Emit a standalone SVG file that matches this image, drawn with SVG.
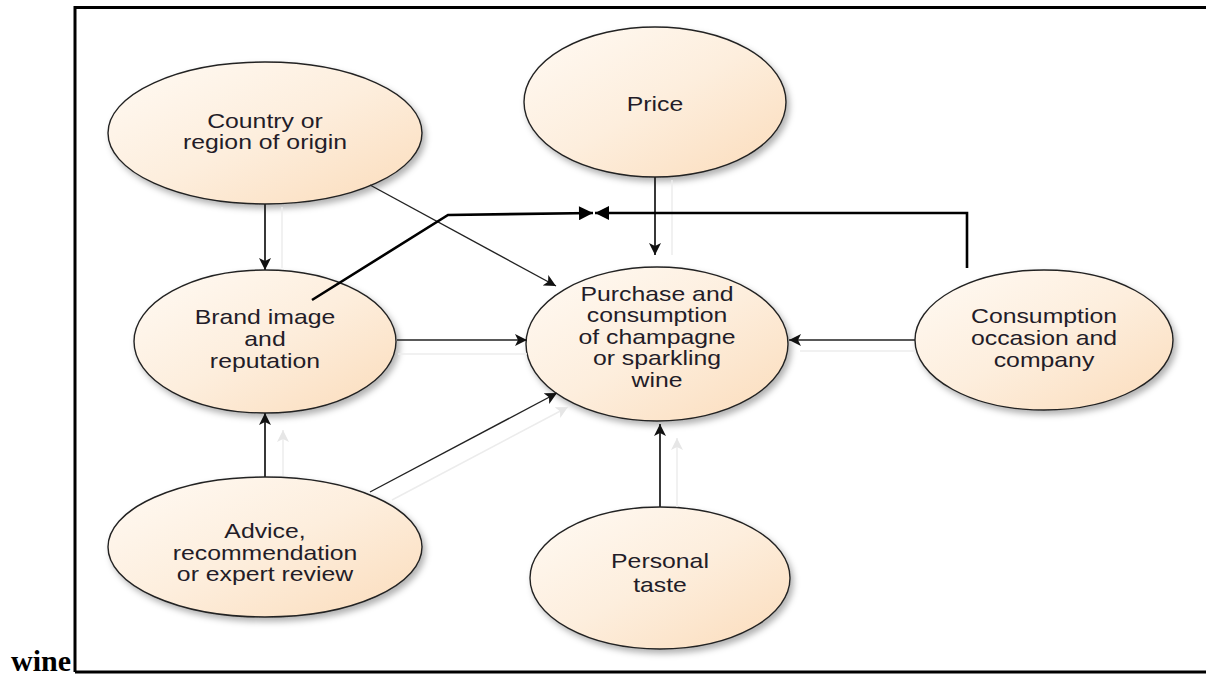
<svg xmlns="http://www.w3.org/2000/svg" width="1206" height="675" viewBox="0 0 1206 675">
  <defs>
    <linearGradient id="peach" x1="0" y1="0" x2="1" y2="1">
      <stop offset="0" stop-color="#fffaf4"/>
      <stop offset="0.5" stop-color="#fdeedd"/>
      <stop offset="1" stop-color="#fbdcbb"/>
    </linearGradient>
    <filter id="shadow" x="-10%" y="-10%" width="125%" height="130%">
      <feDropShadow dx="3" dy="4" stdDeviation="3" flood-color="#000" flood-opacity="0.3"/>
    </filter>
    <marker id="arr" viewBox="0 0 12 12" refX="12" refY="6" markerWidth="12" markerHeight="12" markerUnits="userSpaceOnUse" orient="auto">
      <path d="M0,0 L12,6 L0,12 L3,6 Z" fill="#111"/>
    </marker>
    <marker id="arrGhost" viewBox="0 0 12 12" refX="12" refY="6" markerWidth="12" markerHeight="12" markerUnits="userSpaceOnUse" orient="auto">
      <path d="M0,0 L12,6 L0,12 L3,6 Z" fill="#e6e6e6"/>
    </marker>
    <marker id="arrBold" viewBox="0 0 14 14" refX="14" refY="7" markerWidth="15" markerHeight="14" markerUnits="userSpaceOnUse" orient="auto">
      <path d="M0,0 L14,7 L0,14 Z" fill="#000"/>
    </marker>
  </defs>
  <style>
    .node ellipse { fill: url(#peach); stroke: #222; stroke-width: 1.4; filter: url(#shadow); }
    .label { font-family: "Liberation Sans", Arial, sans-serif; font-size: 20px; fill: #231c28; text-anchor: middle; }
    .edge { fill: none; stroke: #222; stroke-width: 1.4; marker-end: url(#arr); }
    .edge.vert { stroke-width: 1.8; }
    .ghost { fill: none; stroke: #ececec; stroke-width: 1.5; }
    .ghost.tip { marker-end: url(#arrGhost); }
    .bold { fill: none; stroke: #000; stroke-width: 2.6; marker-end: url(#arrBold); }
    .frame { fill: none; stroke: #000; }
    .caption { font-family: "Liberation Serif", "Times New Roman", serif; font-weight: bold; font-size: 30px; fill: #000; }
  </style>

  <rect width="1206" height="675" fill="#fff"/>

  <!-- surrounding box and caption -->
  <g id="frame">
    <path class="frame" d="M75,672 L75,7.5 L1206,7.5" stroke-width="3"/>
    <path class="frame" d="M75,672 L1206,672" stroke-width="3"/>
    <text class="caption" x="11" y="671">wine</text>
  </g>

  <!-- nodes -->
  <g id="node-origin" class="node">
    <ellipse cx="265" cy="133" rx="157" ry="71"/>
    <g transform="translate(265,0) scale(1.24,1)">
      <text class="label" x="0" y="128">Country or</text>
      <text class="label" x="0" y="149">region of origin</text>
    </g>
  </g>

  <g id="node-price" class="node">
    <ellipse cx="655" cy="102" rx="131" ry="75"/>
    <g transform="translate(655,0) scale(1.24,1)">
      <text class="label" x="0" y="111">Price</text>
    </g>
  </g>

  <g id="node-brand" class="node">
    <ellipse cx="265" cy="341.5" rx="131" ry="71.5"/>
    <g transform="translate(265,0) scale(1.24,1)">
      <text class="label" x="0" y="324">Brand image</text>
      <text class="label" x="0" y="346">and</text>
      <text class="label" x="0" y="368">reputation</text>
    </g>
  </g>

  <g id="node-purchase" class="node">
    <ellipse cx="657" cy="344" rx="131" ry="77"/>
    <g transform="translate(657,0) scale(1.24,1)">
      <text class="label" x="0" y="301">Purchase and</text>
      <text class="label" x="0" y="322">consumption</text>
      <text class="label" x="0" y="344">of champagne</text>
      <text class="label" x="0" y="365">or sparkling</text>
      <text class="label" x="0" y="387">wine</text>
    </g>
  </g>

  <g id="node-occasion" class="node">
    <ellipse cx="1044" cy="340" rx="129" ry="70"/>
    <g transform="translate(1044,0) scale(1.24,1)">
      <text class="label" x="0" y="323">Consumption</text>
      <text class="label" x="0" y="345">occasion and</text>
      <text class="label" x="0" y="367">company</text>
    </g>
  </g>

  <g id="node-advice" class="node">
    <ellipse cx="265" cy="547" rx="157" ry="70"/>
    <g transform="translate(265,0) scale(1.24,1)">
      <text class="label" x="0" y="538">Advice,</text>
      <text class="label" x="0" y="560">recommendation</text>
      <text class="label" x="0" y="581">or expert review</text>
    </g>
  </g>

  <g id="node-taste" class="node">
    <ellipse cx="660" cy="578" rx="130" ry="71"/>
    <g transform="translate(660,0) scale(1.24,1)">
      <text class="label" x="0" y="568">Personal</text>
      <text class="label" x="0" y="592">taste</text>
    </g>
  </g>

  <!-- connectors (drawn over the nodes) -->
  <g id="connectors">
    <!-- faint duplicate strokes -->
    <line class="ghost" x1="282" y1="207" x2="282" y2="268"/>
    <line class="ghost tip" x1="283" y1="476" x2="283" y2="430"/>
    <line class="ghost" x1="672" y1="180" x2="672" y2="255"/>
    <line class="ghost" x1="398" y1="354" x2="527" y2="354"/>
    <line class="ghost tip" x1="392" y1="500" x2="568" y2="407"/>
    <line class="ghost tip" x1="677" y1="507" x2="677" y2="438"/>
    <line class="ghost" x1="915" y1="351" x2="800" y2="351"/>

    <line class="edge vert" x1="265" y1="204" x2="265" y2="270"/>
    <line class="edge" x1="370" y1="185" x2="556" y2="286"/>
    <line class="edge vert" x1="655" y1="177" x2="655" y2="255"/>
    <line class="edge" x1="397" y1="340" x2="527" y2="340"/>
    <line class="edge" x1="915" y1="340" x2="789" y2="340"/>
    <line class="edge vert" x1="265" y1="477" x2="265" y2="413"/>
    <line class="edge" x1="370" y1="492" x2="557" y2="393"/>
    <line class="edge vert" x1="660" y1="507" x2="660" y2="424"/>

    <polyline class="bold" points="312,300 448,215 593,213"/>
    <polyline class="bold" points="967,268 967,213 595,213"/>
  </g>
</svg>
